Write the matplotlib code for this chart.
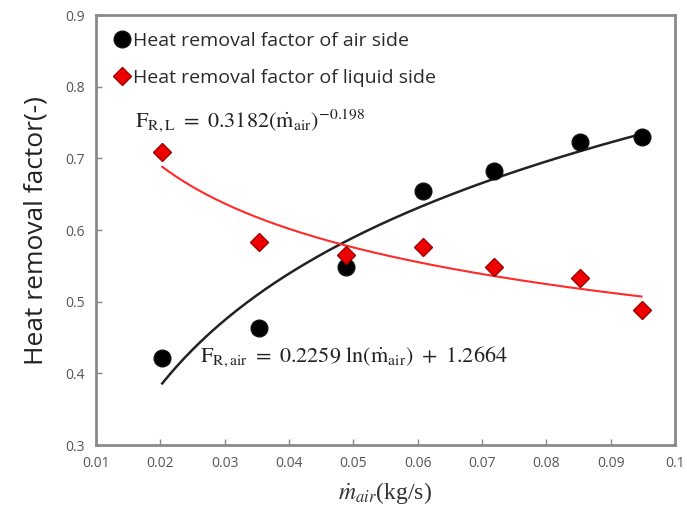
import numpy as np
import matplotlib
matplotlib.use("Agg")
import matplotlib.pyplot as plt

plt.rcParams['mathtext.fontset'] = 'stix'

# Data
m_air = [0.0203, 0.0353, 0.0488, 0.0609, 0.0718, 0.0853, 0.0948]
fr_air = [0.422, 0.463, 0.549, 0.655, 0.683, 0.723, 0.730]
fr_liq = [0.709, 0.584, 0.565, 0.577, 0.549, 0.533, 0.489]

# Trendline coefficients shown on the chart
air_a, air_b = 0.2259, 1.2664
liq_a, liq_b = 0.3182, -0.198

xticks = [0.01, 0.02, 0.03, 0.04, 0.05, 0.06, 0.07, 0.08, 0.09, 0.1]
xticklabels = ['0.01', '0.02', '0.03', '0.04', '0.05', '0.06', '0.07', '0.08', '0.09', '0.1']
yticks = [0.3, 0.4, 0.5, 0.6, 0.7, 0.8, 0.9]
yticklabels = ['0.3', '0.4', '0.5', '0.6', '0.7', '0.8', '0.9']

fig = plt.figure(figsize=(6.87, 5.23), dpi=100)
ax = fig.add_axes([0.1397, 0.149, 0.8428, 0.822])

xs = np.linspace(min(m_air), max(m_air), 200)
ax.plot(xs, air_a * np.log(xs) + air_b, color='#222222', lw=1.8, zorder=2)
ax.plot(xs, liq_a * xs ** liq_b, color='#ff2a2a', lw=1.5, zorder=2)

ax.plot(m_air, fr_air, 'o', ms=12, color='#000000', mec='#111111', zorder=3,
        label='Heat removal factor of air side')
ax.plot(m_air, fr_liq, 'D', ms=9, color='#ee0000', mec='#a00000', mew=1, zorder=4,
        label='Heat removal factor of liquid side')

ax.set_xlim(0.01, 0.1)
ax.set_ylim(0.3, 0.9)
ax.set_xticks(xticks)
ax.set_xticklabels(xticklabels)
ax.set_yticks(yticks)
ax.set_yticklabels(yticklabels)
ax.tick_params(direction='in', length=4, width=1, color='#888888',
               labelcolor='#555555', labelsize=10, pad=8)
for s in ax.spines.values():
    s.set_color('#8a8a8a')
    s.set_linewidth(2)

ax.set_ylabel('Heat removal factor(-)', fontsize=19, color='#222222',
              family='Open Sans', labelpad=12)
ax.set_xlabel(r'$\dot{m}_{air}$(kg/s)', fontsize=17, color='#333333',
              family='Liberation Serif', labelpad=6)
for lbl in ax.get_xticklabels() + ax.get_yticklabels():
    lbl.set_family('Open Sans')

leg = ax.legend(loc='upper left', frameon=False,
                handletextpad=0.05, labelspacing=1.0, borderaxespad=0.55,
                handlelength=1.0, borderpad=0.3,
                prop={'family': 'Open Sans', 'size': 14})
for t in leg.get_texts():
    t.set_color('#2a2a2a')

ax.text(0.0161, 0.753, r'$\mathrm{F_{R,L}}\ =\ 0.3182(\dot{\mathrm{m}}_{\mathrm{air}})^{-0.198}$',
        fontsize=16, color='#222222', va='center')
ax.text(0.0262, 0.423, r'$\mathrm{F_{R,air}}\ =\ 0.2259\ \ln(\dot{\mathrm{m}}_{\mathrm{air}})\ +\ 1.2664$',
        fontsize=16, color='#222222', va='center')

fig.savefig('out.png', dpi=100)
